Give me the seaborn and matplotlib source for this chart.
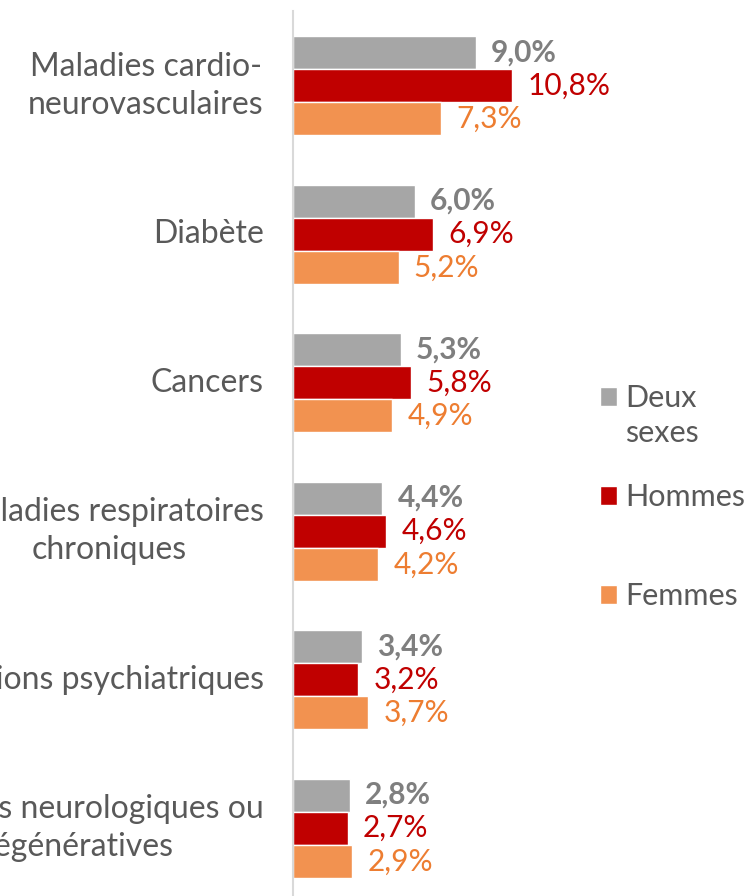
import pandas as pd
import matplotlib.pyplot as plt
import seaborn as sns
from matplotlib.patches import Patch

categories = [
    "Maladies cardio-\nneurovasculaires",
    "Diabète",
    "Cancers",
    "Maladies respiratoires\nchroniques",
    "Affections psychiatriques",
    "Maladies neurologiques ou\ndégénératives",
]
deux_sexes = [9.0, 6.0, 5.3, 4.4, 3.4, 2.8]
hommes = [10.8, 6.9, 5.8, 4.6, 3.2, 2.7]
femmes = [7.3, 5.2, 4.9, 4.2, 3.7, 2.9]
series = ["Deux sexes", "Hommes", "Femmes"]

bar_colors = ["#A6A6A6", "#C00000", "#F29250"]
text_colors = ["#7F7F7F", "#C00000", "#ED7D31"]

rows = []
for name, vals in zip(series, [deux_sexes, hommes, femmes]):
    for cat, v in zip(categories, vals):
        rows.append({"Pathologie": cat, "Sexe": name, "Taux": v})
df = pd.DataFrame(rows)

sns.set_style("white")
plt.rcParams["font.family"] = ["Lato", "DejaVu Sans"]

W, H = 747, 896
fig = plt.figure(figsize=(W / 100, H / 100), dpi=100)
ax = fig.add_axes([293 / W, -6.5 / H, 1 - 293 / W, 891 / H])

sns.barplot(data=df, y="Pathologie", x="Taux", hue="Sexe", orient="h",
            palette=bar_colors, width=0.67, gap=0, saturation=1,
            legend=False, ax=ax)

ax.set_xlim(0, 454 / 20.3)
ax.set_xlabel("")
ax.set_ylabel("")
ax.set_xticks([])
ax.tick_params(axis="y", length=0, pad=21, labelsize=23, labelcolor="#595959")
for lab in ax.get_yticklabels():
    lab.set_multialignment("center")
    lab.set_linespacing(1.35)
    lab.set_verticalalignment("center")

for s in ["top", "right", "bottom"]:
    ax.spines[s].set_visible(False)
ax.spines["left"].set_color("#D9D9D9")
ax.spines["left"].set_linewidth(1.5)

for i, cont in enumerate(ax.containers):
    vals = [deux_sexes, hommes, femmes][i]
    labels = [f"{v:.1f}%".replace(".", ",") for v in vals]
    ax.bar_label(cont, labels=labels, padding=11, fontsize=21.5,
                 color=text_colors[i],
                 fontweight="bold" if i == 0 else "normal")

# legend: one small legend per series so the entries sit where they do in the original
leg_kw = dict(loc="center left", bbox_transform=fig.transFigure, frameon=False,
              fontsize=22, labelcolor="#595959", handlelength=0.56,
              handleheight=0.56, handletextpad=0.26,
              borderpad=0, borderaxespad=0)
leg1 = ax.legend([Patch(facecolor=bar_colors[0]), Patch(alpha=0)], ["Deux", "sexes"],
                 bbox_to_anchor=(600 / W, 1 - 415.5 / H), labelspacing=0.2, **leg_kw)
ax.add_artist(leg1)
leg2 = ax.legend([Patch(facecolor=bar_colors[1])], ["Hommes"],
                 bbox_to_anchor=(600 / W, 1 - 497 / H), **leg_kw)
ax.add_artist(leg2)
ax.legend([Patch(facecolor=bar_colors[2])], ["Femmes"],
          bbox_to_anchor=(600 / W, 1 - 596 / H), **leg_kw)

fig.savefig("out.png", dpi=100)
